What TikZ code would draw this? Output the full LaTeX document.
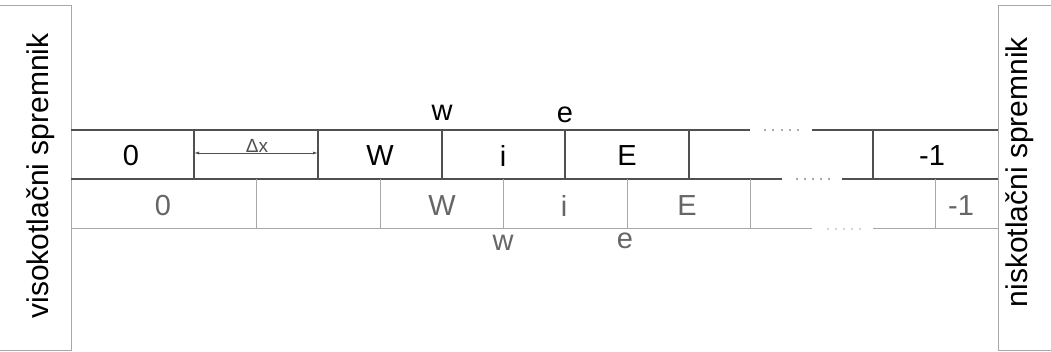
\documentclass[tikz,border=0pt]{standalone}
\usepackage{fontspec}
\setmainfont{Liberation Sans}
\usetikzlibrary{arrows.meta}
\definecolor{upline}{HTML}{505050}
\definecolor{loline}{HTML}{A8A8A8}
\definecolor{lotext}{HTML}{666666}
\definecolor{boxline}{HTML}{A8A8A8}
\tikzset{
  upl/.style={draw=upline, line width=1.1pt},
  lol/.style={draw=loline, line width=1pt},
  boxl/.style={draw=boxline, line width=1pt},
  uptxt/.style={font=\fontsize{29}{31}\selectfont, text=black, inner sep=0pt},
  lotxt/.style={font=\fontsize{29}{31}\selectfont, text=lotext, inner sep=0pt},
  sidetxt/.style={font=\fontsize{30}{32}\selectfont, text=black, inner sep=0pt, rotate=90},
  dotmark/.style={fill=#1, circle, inner sep=0pt, minimum size=1.6pt},
}
\begin{document}
\begin{tikzpicture}[x=1pt,y=-1pt]
\useasboundingbox (0,0) rectangle (1051,352);
% tanks
\draw[boxl] (0,6) -- (71,6) -- (71,350) -- (0,350);
\draw[boxl] (1051,6) -- (998,6) -- (998,350) -- (1051,350);
\node[sidetxt] (hp) at (41,176) {visokotlačni spremnik};
\node[sidetxt] (lp) at (1020,172) {niskotlačni spremnik};
% upper row
\draw[upl] (71,130) -- (750,130);
\draw[upl] (812,130) -- (998,130);
\draw[upl] (71,179) -- (782,179);
\draw[upl] (842,179) -- (998,179);
\foreach \x in {194,318,442,565,689,873} \draw[upl] (\x,130) -- (\x,179);
\foreach \x in {765,773,782,790,798} \node[dotmark=upline] at (\x,130) {};
\foreach \x in {797,805,813,821,829} \node[dotmark=upline] at (\x,179) {};
% lower row
\draw[lol] (71,229) -- (812,229);
\draw[lol] (873,229) -- (998,229);
\foreach \x in {256,380,503,627,750,935} \draw[lol] (\x,179) -- (\x,229);
\foreach \x in {828,836,844,852,860} \node[dotmark=loline] at (\x,229) {};
% dx arrow
\coordinate (dxa) at (194,153);
\coordinate (dxb) at (318,153);
\draw[upl, line width=0.8pt, {Latex[length=5pt,width=3pt]}-{Latex[length=5pt,width=3pt]}] (dxa) -- (dxb);
\node[font=\fontsize{19}{21}\selectfont, text=upline, inner sep=0pt, anchor=base] (dx) at (257,152.5) {Δx};
% upper labels
\node[uptxt] (u0) at (131,156) {0};
\node[uptxt] (uW) at (380,156) {W};
\node[uptxt] (ui) at (503,156) {i};
\node[uptxt] (uE) at (627,156) {E};
\node[uptxt] (um1) at (932,156) {-1};
\node[uptxt] (uw) at (442,113) {w};
\node[uptxt] (ue) at (565,115) {e};
% lower labels
\node[lotxt] (l0) at (163,206) {0};
\node[lotxt] (lW) at (442,206) {W};
\node[lotxt] (li) at (564,206) {i};
\node[lotxt] (lE) at (687,206) {E};
\node[lotxt] (lm1) at (961,206) {-1};
\node[lotxt] (lw) at (503,243) {w};
\node[lotxt] (le) at (625,241) {e};
\end{tikzpicture}
\end{document}
